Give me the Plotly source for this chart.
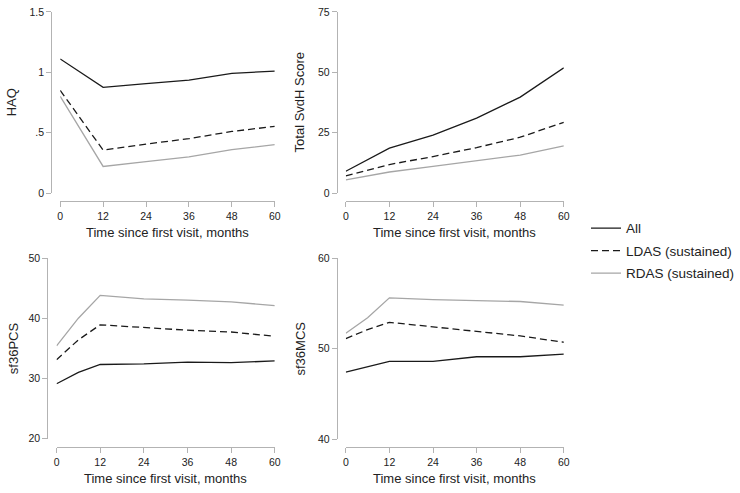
import plotly.graph_objects as go

W, H = 740, 493

# months of follow-up
months = [0, 12, 24, 36, 48, 60]
months_sf = [0, 6, 12, 24, 36, 48, 60]

series_names = ["All", "LDAS (sustained)", "RDAS (sustained)"]

haq_all = [1.11, 0.875, 0.905, 0.935, 0.99, 1.01]
haq_ldas = [0.85, 0.355, 0.405, 0.45, 0.51, 0.552]
haq_rdas = [0.80, 0.22, 0.26, 0.30, 0.36, 0.40]

svdh_all = [9.0, 18.6, 24.0, 31.0, 39.7, 51.8]
svdh_ldas = [7.1, 11.8, 15.1, 18.8, 23.1, 29.3]
svdh_rdas = [5.4, 8.7, 11.0, 13.5, 15.7, 19.5]

pcs_all = [29.1, 31.0, 32.3, 32.4, 32.7, 32.6, 32.9]
pcs_ldas = [33.1, 36.4, 38.9, 38.4, 38.0, 37.7, 37.0]
pcs_rdas = [35.4, 40.0, 43.8, 43.2, 43.0, 42.7, 42.1]

mcs_all = [47.4, 48.0, 48.6, 48.6, 49.1, 49.1, 49.4]
mcs_ldas = [51.1, 52.1, 52.9, 52.4, 51.9, 51.4, 50.7]
mcs_rdas = [51.7, 53.4, 55.6, 55.4, 55.3, 55.2, 54.8]

x_ticks = [0, 12, 24, 36, 48, 60]
haq_ticks = [0, 0.5, 1, 1.5]
haq_ticktext = ["0", ".5", "1", "1.5"]
svdh_ticks = [0, 25, 50, 75]
pcs_ticks = [20, 30, 40, 50]
mcs_ticks = [40, 50, 60]

x_title = "Time since first visit, months"

styles = [
    dict(color="#1a1a1a", width=1.3, dash="solid"),
    dict(color="#1a1a1a", width=1.3, dash="7px,4px"),
    dict(color="#a6a6a6", width=1.3, dash="solid"),
]

# panel geometry in pixels: plot x0, x1, y-axis x, y top, y bottom, x-axis line y
panels = [
    dict(x0=58, x1=275.5, yx=49, yt=6, yb=191.7, xl=200,
         x=months, ys=[haq_all, haq_ldas, haq_rdas], yr=[0, 1.5],
         tv=haq_ticks, tt=haq_ticktext, title="HAQ", tx=9),
    dict(x0=347.5, x1=568.5, yx=338.5, yt=6, yb=191.7, xl=200,
         x=months, ys=[svdh_all, svdh_ldas, svdh_rdas], yr=[0, 75],
         tv=svdh_ticks, tt=[str(v) for v in svdh_ticks], title="Total SvdH Score", tx=300),
    dict(x0=54.3, x1=275.5, yx=45, yt=258.3, yb=443.3, xl=452.3,
         x=months_sf, ys=[pcs_all, pcs_ldas, pcs_rdas], yr=[20, 50],
         tv=pcs_ticks, tt=[str(v) for v in pcs_ticks], title="sf36PCS", tx=10),
    dict(x0=347.5, x1=568.5, yx=338.5, yt=258.3, yb=444, xl=452.3,
         x=months_sf, ys=[mcs_all, mcs_ldas, mcs_rdas], yr=[40, 60],
         tv=mcs_ticks, tt=[str(v) for v in mcs_ticks], title="sf36MCS", tx=302),
]

font = "Liberation Sans, Arial, Helvetica, sans-serif"
axis_col = "#b3b3b3"
text_col = "#222222"

fig = go.Figure()
layout = {}
annotations = []

for i, p in enumerate(panels, start=1):
    xa = "x" if i == 1 else f"x{i}"
    ya = "y" if i == 1 else f"y{i}"
    for k, (name, yv) in enumerate(zip(series_names, p["ys"])):
        fig.add_trace(go.Scatter(
            x=p["x"], y=yv, mode="lines", name=name, xaxis=xa, yaxis=ya,
            line=styles[k], legendgroup=name, showlegend=(i == 1),
        ))
    common = dict(showline=True, linecolor=axis_col, linewidth=1.3,
                  ticks="outside", ticklen=5, tickcolor=axis_col, tickwidth=1.3,
                  showgrid=False, zeroline=False,
                  tickfont=dict(family=font, size=10.5, color=text_col))
    layout[f"xaxis{i if i > 1 else ''}"] = dict(
        common, domain=[p["x0"] / W, p["x1"] / W], range=[0, 60],
        tickvals=x_ticks, anchor="free", position=1 - p["xl"] / H,
    )
    layout[f"yaxis{i if i > 1 else ''}"] = dict(
        common, domain=[1 - p["yb"] / H, 1 - p["yt"] / H], range=p["yr"],
        tickvals=p["tv"], ticktext=p["tt"], anchor="free", position=p["yx"] / W,
    )
    annotations.append(dict(
        text=x_title, xref="paper", yref="paper",
        x=(p["x0"] + p["x1"]) / 2 / W, y=1 - (p["xl"] + 32) / H,
        showarrow=False, xanchor="center", yanchor="middle",
        font=dict(family=font, size=13, color=text_col),
    ))
    annotations.append(dict(
        text=p["title"], xref="paper", yref="paper",
        x=p["tx"] / W, y=1 - (p["yt"] + p["yb"]) / 2 / H, textangle=-90,
        showarrow=False, xanchor="center", yanchor="middle",
        font=dict(family=font, size=13, color=text_col),
    ))

fig.update_layout(
    **layout,
    annotations=annotations,
    width=W, height=H,
    margin=dict(l=0, r=0, t=0, b=0),
    paper_bgcolor="white", plot_bgcolor="white",
    legend=dict(
        x=591 / W, y=1 - 212 / H, xanchor="left", yanchor="top",
        font=dict(family=font, size=13.5, color=text_col),
        traceorder="grouped", tracegroupgap=2, itemwidth=30,
        bgcolor="rgba(0,0,0,0)",
    ),
)

# page body has a default margin and may scroll; pin the figure to the window corner
page_js = (
    "document.body.style.margin='0';"
    "document.body.style.overflow='hidden';"
    "document.documentElement.style.overflow='hidden';"
)
fig.write_html("out.html", config={"displayModeBar": False}, post_script=page_js)
